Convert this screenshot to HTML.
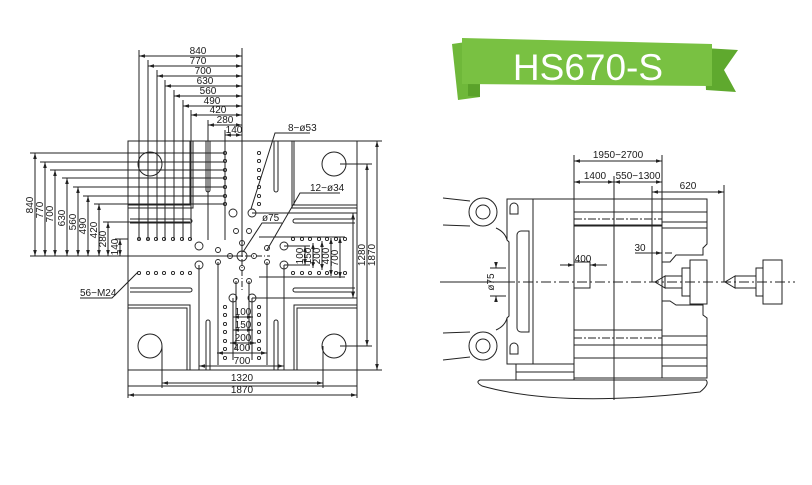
<!DOCTYPE html>
<html><head><meta charset="utf-8"><style>
html,body{margin:0;padding:0;background:#fff;}
svg{display:block;}
text{font-family:"Liberation Sans",sans-serif;fill:#1a1a1a;}
</style></head><body>
<svg width="812" height="485" viewBox="0 0 812 485" xmlns="http://www.w3.org/2000/svg">
<defs>
<marker id="a" viewBox="0 0 10 6" refX="10" refY="3" markerWidth="6" markerHeight="3.6" orient="auto-start-reverse"><path d="M0 0L10 3L0 6Z" fill="#222"/></marker>
</defs>
<!-- Banner -->
<polygon points="452,44 480,40 480,97 458,100" fill="#6fb83a"/>
<polygon points="480,40 468,48 468,96 480,97" fill="#5aa22a"/>
<polygon points="704,48 738,50 724,70 736,92 706,90" fill="#5fa92e"/>
<polygon points="462,38 712,44 712,86 462,84" fill="#79c142"/>
<text x="588" y="80" font-size="37" text-anchor="middle" style="fill:#fff">HS670-S</text>

<g fill="none" stroke="#222" stroke-width="1">
<rect x="128" y="141" width="229" height="229"/>
<line x1="128" y1="386" x2="357" y2="386"/>
<line x1="128" y1="370" x2="128" y2="398"/><line x1="357" y1="370" x2="357" y2="398"/>
<circle cx="150" cy="164" r="12"/><circle cx="334" cy="164" r="12"/>
<circle cx="150" cy="346" r="12"/><circle cx="334" cy="346" r="12"/>
<path d="M190 141V205H128M193 141V208H128"/>
<path d="M294 141V205H357M292 141V208H357"/>
<path d="M206 141V190a2 2 0 0 0 4 0V141"/>
<path d="M274 141V190a2 2 0 0 0 4 0V141"/>
<path d="M130 219H190a2 2 0 0 1 0 4H130"/>
<path d="M355 219H295a2 2 0 0 0 0 4H355"/>
<path d="M130 288H190a2 2 0 0 1 0 4H130"/>
<path d="M355 288H295a2 2 0 0 0 0 4H355"/>
<path d="M128 305H190V370M128 308H187V370"/>
<path d="M357 305H294V370M357 308H297V370"/>
<path d="M206 370V322a2 2 0 0 1 4 0V370"/>
<path d="M274 370V322a2 2 0 0 1 4 0V370"/>
<line x1="242" y1="48" x2="242" y2="256"/>
<path d="M139 50V240M148 60V240M157 70V240M165 80V240M174 90V240M183 100V240M191 110V240M208 120V240M225 130V240"/>
<g marker-start="url(#a)" marker-end="url(#a)">
<path d="M139 56H242"/><path d="M148 66H242"/><path d="M157 76H242"/><path d="M165 86H242"/><path d="M174 96H242"/><path d="M183 106H242"/><path d="M191 115H242"/><path d="M208 125H242"/><path d="M225 135H242"/>
</g>
<line x1="30" y1="256" x2="242" y2="256"/>
<g marker-start="url(#a)" marker-end="url(#a)">
<path d="M35 256V153"/><path d="M45 256V162"/><path d="M55 256V170"/><path d="M67 256V178"/><path d="M78 256V187"/><path d="M88 256V196"/><path d="M99 256V204"/><path d="M108 256V222"/><path d="M120 256V239"/>
</g>
<path d="M30 153H225M40 162H225M50 170H225M62 178H225M73 187H225M83 196H225M94 204H225M103 222H190M115 239H128"/>
<path d="M340 164H372M357 141H382M357 370H382M340 346H372"/>
<line x1="367" y1="164" x2="367" y2="346" marker-start="url(#a)" marker-end="url(#a)"/>
<line x1="377" y1="141" x2="377" y2="370" marker-start="url(#a)" marker-end="url(#a)"/>
<path d="M252 213H357M284 246H310M284 265H310M252 298H357M259 237H345M259 277H345"/>
<g marker-start="url(#a)" marker-end="url(#a)">
<path d="M305 246V265"/><path d="M313 243V268"/><path d="M322 241V270"/><path d="M331 238V276"/><path d="M340 237V278"/><path d="M353 213V298"/>
</g>
<path d="M233 298V360M252 298V360M236 281V350M249 281V350M218 262V365M267 262V365M199 265V370M284 265V370"/>
<g marker-start="url(#a)" marker-end="url(#a)">
<path d="M233 317H253"/><path d="M233 330H253"/><path d="M230 343H256"/><path d="M217 353H267"/><path d="M199 366H284"/><path d="M162 383H323"/><path d="M128 395H357"/>
</g>
<path d="M162 346V388M323 346V388"/>
<path d="M212 256H270" stroke-dasharray="6 2 1 2"/>
<path d="M242 226V290" stroke-dasharray="6 2 1 2"/>
<path d="M251 209L275 133H310M267 250L300 193H340M243 252L262 223H282M138 272L112 298H80"/>
</g>
<g fill="none" stroke="#222" stroke-width="0.9">
<circle cx="225" cy="153" r="1.6"/><circle cx="225" cy="161" r="1.6"/><circle cx="225" cy="170" r="1.6"/><circle cx="225" cy="178" r="1.6"/><circle cx="225" cy="187" r="1.6"/><circle cx="225" cy="196" r="1.6"/><circle cx="225" cy="204" r="1.6"/>
<circle cx="259" cy="153" r="1.6"/><circle cx="259" cy="161" r="1.6"/><circle cx="259" cy="170" r="1.6"/><circle cx="259" cy="178" r="1.6"/><circle cx="259" cy="187" r="1.6"/><circle cx="259" cy="196" r="1.6"/><circle cx="259" cy="204" r="1.6"/>
<circle cx="225" cy="307" r="1.6"/><circle cx="225" cy="315" r="1.6"/><circle cx="225" cy="324" r="1.6"/><circle cx="225" cy="332" r="1.6"/><circle cx="225" cy="341" r="1.6"/><circle cx="225" cy="349" r="1.6"/><circle cx="225" cy="358" r="1.6"/>
<circle cx="259" cy="307" r="1.6"/><circle cx="259" cy="315" r="1.6"/><circle cx="259" cy="324" r="1.6"/><circle cx="259" cy="332" r="1.6"/><circle cx="259" cy="341" r="1.6"/><circle cx="259" cy="349" r="1.6"/><circle cx="259" cy="358" r="1.6"/>
<circle cx="139" cy="239" r="1.6"/><circle cx="148" cy="239" r="1.6"/><circle cx="156" cy="239" r="1.6"/><circle cx="164" cy="239" r="1.6"/><circle cx="173" cy="239" r="1.6"/><circle cx="182" cy="239" r="1.6"/><circle cx="190" cy="239" r="1.6"/>
<circle cx="139" cy="273" r="1.6"/><circle cx="148" cy="273" r="1.6"/><circle cx="156" cy="273" r="1.6"/><circle cx="164" cy="273" r="1.6"/><circle cx="173" cy="273" r="1.6"/><circle cx="182" cy="273" r="1.6"/><circle cx="190" cy="273" r="1.6"/>
<circle cx="293" cy="239" r="1.6"/><circle cx="302" cy="239" r="1.6"/><circle cx="310" cy="239" r="1.6"/><circle cx="319" cy="239" r="1.6"/><circle cx="327" cy="239" r="1.6"/><circle cx="336" cy="239" r="1.6"/><circle cx="345" cy="239" r="1.6"/>
<circle cx="293" cy="273" r="1.6"/><circle cx="302" cy="273" r="1.6"/><circle cx="310" cy="273" r="1.6"/><circle cx="319" cy="273" r="1.6"/><circle cx="327" cy="273" r="1.6"/><circle cx="336" cy="273" r="1.6"/><circle cx="345" cy="273" r="1.6"/>
<circle cx="233" cy="213" r="4"/><circle cx="252" cy="213" r="4"/>
<circle cx="199" cy="246" r="4"/><circle cx="199" cy="265" r="4"/>
<circle cx="284" cy="246" r="4"/><circle cx="284" cy="265" r="4"/>
<circle cx="233" cy="298" r="4"/><circle cx="252" cy="298" r="4"/>
<circle cx="218" cy="250" r="2.5"/><circle cx="218" cy="262" r="2.5"/>
<circle cx="236" cy="231" r="2.5"/><circle cx="249" cy="231" r="2.5"/>
<circle cx="242" cy="243" r="2.5"/><circle cx="230" cy="256" r="2.5"/><circle cx="254" cy="256" r="2.5"/><circle cx="242" cy="268" r="2.5"/>
<circle cx="267" cy="248" r="2.5"/><circle cx="267" cy="262" r="2.5"/>
<circle cx="236" cy="281" r="2.5"/><circle cx="249" cy="281" r="2.5"/>
<circle cx="242" cy="256" r="5"/>
</g>
<g font-size="10" text-anchor="middle">
<text x="198" y="54">840</text><text x="198" y="64">770</text><text x="203" y="74">700</text><text x="205" y="84">630</text><text x="208" y="94">560</text><text x="212" y="104">490</text><text x="218" y="113">420</text><text x="225" y="123">280</text><text x="234" y="133">140</text>
<text x="243" y="315">100</text><text x="243" y="328">150</text><text x="243" y="341">200</text><text x="242" y="351">400</text><text x="242" y="364">700</text>
<text x="242" y="381">1320</text><text x="242" y="393">1870</text>
<text x="288" y="131" text-anchor="start">8−ø53</text>
<text x="310" y="191" text-anchor="start">12−ø34</text>
<text x="262" y="221" text-anchor="start">ø75</text>
<text x="80" y="296" text-anchor="start">56−M24</text>
</g>
<g font-size="10" text-anchor="middle">
<text transform="translate(33,205) rotate(-90)">840</text>
<text transform="translate(43,210) rotate(-90)">770</text>
<text transform="translate(53,214) rotate(-90)">700</text>
<text transform="translate(65,218) rotate(-90)">630</text>
<text transform="translate(76,222) rotate(-90)">560</text>
<text transform="translate(86,226) rotate(-90)">490</text>
<text transform="translate(97,230) rotate(-90)">420</text>
<text transform="translate(106,239) rotate(-90)">280</text>
<text transform="translate(118,247) rotate(-90)">140</text>
<text transform="translate(303,256) rotate(-90)">100</text>
<text transform="translate(311,256) rotate(-90)">150</text>
<text transform="translate(320,256) rotate(-90)">200</text>
<text transform="translate(329,256) rotate(-90)">400</text>
<text transform="translate(338,258) rotate(-90)">700</text>
<text transform="translate(365,255) rotate(-90)">1280</text>
<text transform="translate(375,255) rotate(-90)">1870</text>
</g>

<g fill="none" stroke="#222" stroke-width="1">
<path d="M574 155V380M662 155V282M614 176V400M652 186V282M724 185V282"/>
<g marker-start="url(#a)" marker-end="url(#a)">
<path d="M574 161H662"/><path d="M574 182H614"/><path d="M614 182H662"/><path d="M652 192H724"/>
</g>
<circle cx="483" cy="212" r="14"/><circle cx="483" cy="212" r="7"/>
<circle cx="483" cy="346" r="14"/><circle cx="483" cy="346" r="7"/>
<path d="M443 198L470 201M443 225L470 226M496 228Q505 232 507 240"/>
<path d="M443 360L470 357M443 333L470 332M496 330Q505 326 507 318"/>
<path d="M507 199H533V364H507V318L509 316V242L507 240Z"/>
<path d="M510 207a4 4 0 0 1 8 0V214H510Z"/>
<path d="M510 347a4 4 0 0 1 8 0V354H510Z"/>
<path d="M517 235a4 4 0 0 1 4-4H529V332H521a4 4 0 0 1 -4-4Z"/>
<rect x="533" y="199" width="41" height="165"/>
<path d="M516 364V380H574M516 372H574"/>
<path d="M574 199H662V378H574"/>
<path d="M574 212H662M574 225H662M574 226H662M574 330H662M574 345H662M574 358H662"/>
<path d="M574 219H662M574 338H662" stroke-dasharray="8 2 2 2"/>
<rect x="574" y="262" width="16" height="26"/>
<path d="M662 199H707V244L703 248V255H676L670 262H662"/>
<path d="M662 301H670L676 305H703V315L707 318V378H662"/>
<path d="M662 212H707M662 222H707M662 228H707M662 336H707M662 345H707M662 358H707M662 366H707"/>
<path d="M665 276L655 282L665 288ZM665 276H682V288H665M682 268H690V296H682ZM690 260H707V304H690Z"/>
<path d="M735 276L725 282L735 288ZM735 276H756V288H735M756 268H763V296H756ZM763 260H782V304H763Z"/>
<path d="M505 282H795" stroke-dasharray="10 3 2 3"/>
<line x1="440" y1="282" x2="505" y2="282"/>
<path d="M560 265H574" marker-end="url(#a)"/><path d="M607 265H590" marker-end="url(#a)"/>
<path d="M574 258V272"/>
<path d="M496 262V268" marker-end="url(#a)"/><path d="M496 302V296" marker-end="url(#a)"/>
<path d="M490 268H506M490 296H506"/>
<path d="M635 253H662" marker-end="url(#a)"/><path d="M672 253H665"/>
<path d="M480 380Q475 382 482 386Q560 408 700 392Q710 384 706 380Z"/>
</g>
<g font-size="10" text-anchor="middle">
<text x="618" y="158">1950−2700</text>
<text x="595" y="179">1400</text>
<text x="638" y="179">550−1300</text>
<text x="688" y="189">620</text>
<text x="583" y="262">400</text>
<text x="640" y="251">30</text>
<text transform="translate(494,282) rotate(-90)">ø75</text>
</g>
</svg>
</body></html>
